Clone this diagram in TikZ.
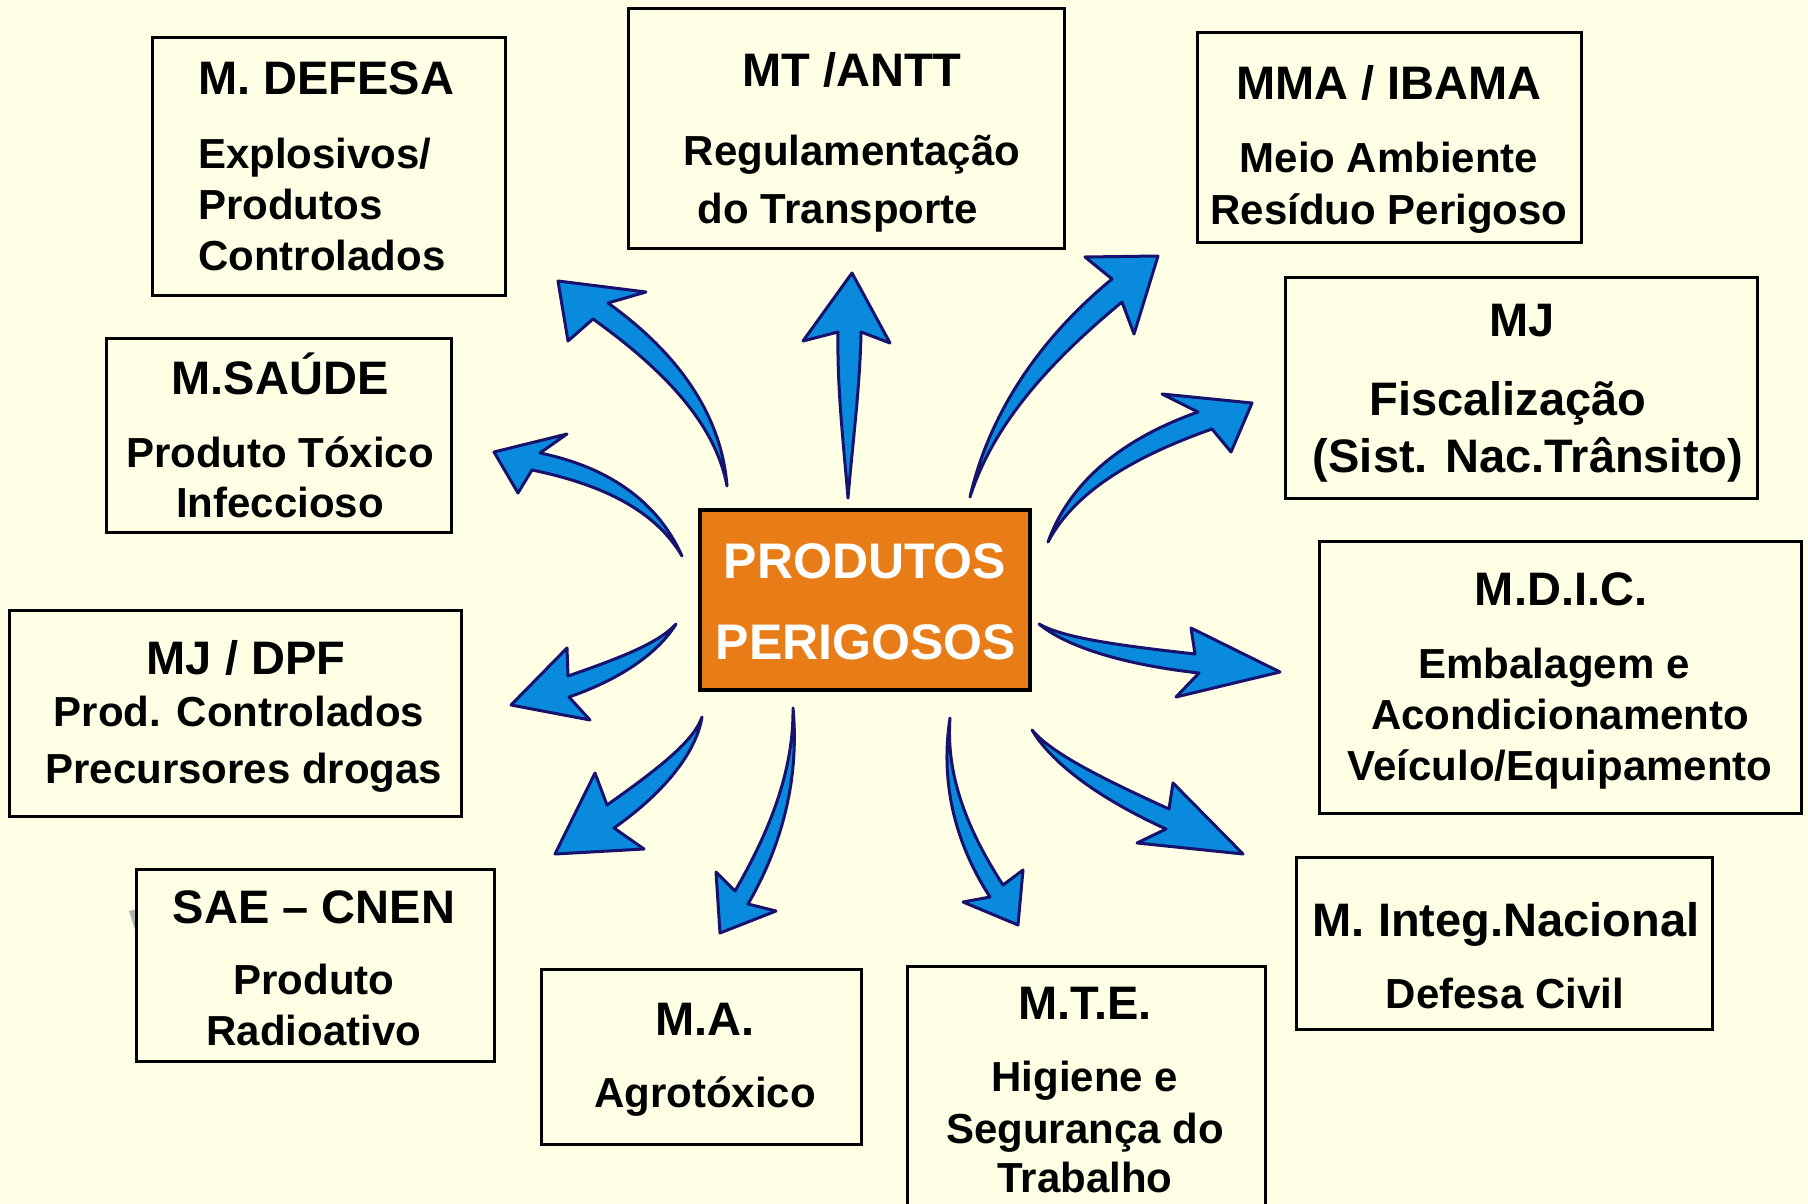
\documentclass[tikz,border=0pt]{standalone}
\usepackage{fontspec}
\setmainfont{Liberation Sans}
\usetikzlibrary{calc}
\definecolor{bg}{HTML}{FFFFE6}
\definecolor{arrfill}{HTML}{0A8ADC}
\definecolor{arrline}{HTML}{16126E}
\definecolor{orangebox}{HTML}{E87C17}
% tail, control, notch, barb, tip, barb, notch
\newcommand\blockarrow[7]{%
  \coordinate (nm) at ($(#3)!0.5!(#7)$);
  \coordinate (ca) at ($(#1)!0.667!(#2)$);
  \coordinate (cb) at ($(nm)!0.667!(#2)$);
  \filldraw[arr] (#1) .. controls ($(ca)+0.4*(#3)-0.4*(nm)$) and ($(cb)+(#3)-(nm)$) .. (#3)
    -- (#4) -- (#5) -- (#6) -- (#7)
    .. controls ($(cb)+(#7)-(nm)$) and ($(ca)+0.4*(#7)-0.4*(nm)$) .. (#1) -- cycle;}
\begin{document}
\begin{tikzpicture}[x=1pt,y=-1pt,
  box/.style={draw=black,line width=3pt,fill=bg,rectangle,inner sep=0pt},
  ttl/.style={anchor=base,inner sep=0pt,font=\fontsize{47}{56}\selectfont\bfseries},
  bdy/.style={anchor=base,inner sep=0pt,font=\fontsize{42}{50}\selectfont\bfseries},
  ctr/.style={anchor=base,inner sep=0pt,text=white,font=\fontsize{50}{60}\selectfont\bfseries},
  arr/.style={fill=arrfill,draw=arrline,line width=3pt,line join=round}]
\useasboundingbox (0,0) rectangle (1808,1204);
\fill[bg] (0,0) rectangle (1808,1204);
\fill[gray!60] (129,911) -- (137,909) -- (137,936) -- cycle;
\begin{scope}
\clip (0,0) rectangle (1808,1204);
% boxes
\node[box,minimum width=353,minimum height=257] (defesa) at (328.5,166.5) {};
\node[box,minimum width=436,minimum height=239] (antt) at (846,128.5) {};
\node[box,minimum width=384,minimum height=209] (ibama) at (1389,137.5) {};
\node[box,minimum width=472,minimum height=221] (mjf) at (1521,387.5) {};
\node[box,minimum width=482,minimum height=272] (mdic) at (1560,677) {};
\node[box,minimum width=416,minimum height=172] (integ) at (1504,943) {};
\node[box,minimum width=358,minimum height=274] (mte) at (1086,1103) {};
\node[box,minimum width=320,minimum height=175] (ma) at (701,1056.5) {};
\node[box,minimum width=358,minimum height=192] (cnen) at (315,965) {};
\node[box,minimum width=452,minimum height=206] (dpf) at (235,713) {};
\node[box,minimum width=345,minimum height=194] (saude) at (278.5,435) {};
\node[box,fill=orangebox,line width=4pt,minimum width=330,minimum height=180] (center) at (865,600) {};
\end{scope}
% texts
\node[ttl,anchor=base west] (t1a) at (198,95) {M. DEFESA};
\node[bdy,anchor=base west] (t1b) at (198,168) {Explosivos/};
\node[bdy,anchor=base west] (t1c) at (198,219) {Produtos};
\node[bdy,anchor=base west] (t1d) at (198,270) {Controlados};
\node[ttl] (t2a) at (852,87) {MT /ANTT};
\node[bdy] (t2b) at (852,165) {Regulamentação};
\node[bdy] (t2c) at (838,223) {do Transporte};
\node[ttl] (t3a) at (1389,100) {MMA / IBAMA};
\node[bdy] (t3b) at (1389,173) {Meio Ambiente};
\node[bdy] (t3c) at (1389,224) {Resíduo Perigoso};
\node[ttl] (t4a) at (1522,336) {MJ};
\node[ttl] (t4b) at (1508,415) {Fiscalização};
\node[ttl] (t4c) at (1528,472) {(Sist. Nac.Trânsito)};
\node[ttl] (t5a) at (1561,605) {M.D.I.C.};
\node[bdy] (t5b) at (1554,678) {Embalagem e};
\node[bdy] (t5c) at (1560,729) {Acondicionamento};
\node[bdy] (t5d) at (1560,780) {Veículo/Equipamento};
\node[ttl] (t6a) at (1506,936) {M. Integ.Nacional};
\node[bdy] (t6b) at (1505,1008) {Defesa Civil};
\node[ttl] (t7a) at (1085,1019) {M.T.E.};
\node[bdy] (t7b) at (1085,1091) {Higiene e};
\node[bdy] (t7c) at (1085,1143) {Segurança do};
\node[bdy] (t7d) at (1085,1192) {Trabalho};
\node[ttl] (t8a) at (705,1035) {M.A.};
\node[bdy] (t8b) at (705,1107) {Agrotóxico};
\node[ttl] (t9a) at (314,923) {SAE – CNEN};
\node[bdy] (t9b) at (314,994) {Produto};
\node[bdy] (t9c) at (314,1045) {Radioativo};
\node[ttl] (t10a) at (246,674) {MJ / DPF};
\node[bdy] (t10b) at (239,726) {Prod. Controlados};
\node[bdy] (t10c) at (244,783) {Precursores drogas};
\node[ttl] (t11a) at (280,394) {M.SAÚDE};
\node[bdy] (t11b) at (280,467) {Produto Tóxico};
\node[bdy] (t11c) at (280,517) {Infeccioso};
\node[ctr] (c1) at (865,578) {PRODUTOS};
\node[ctr] (c2) at (866,659) {PERIGOSOS};
% arrows: tail, control, notch, barb, tip, barb, notch
\blockarrow{727,486}{715,393}{608,303}{646,292}{558,281}{568,341}{593,319}
\blockarrow{682,556}{645,484}{540,453}{567,434}{494,452}{518,493}{532,470}
\blockarrow{676,624}{651,658}{568,676}{567,648}{511,705}{590,720}{569,697}
\blockarrow{702,717}{692,759}{607,805}{595,773}{555,854}{644,849}{614,828}
\blockarrow{793,708}{798,800}{735,891}{716,872}{720,933}{776,911}{748,904}
\blockarrow{950,718}{940,804}{990,897}{963,902}{1018,925}{1023,870}{1003,885}
\blockarrow{1032,730}{1060,770}{1166,829}{1137,843}{1243,854}{1173,783}{1169,809}
\blockarrow{1039,624}{1076,650}{1199,673}{1176,697}{1280,672}{1191,628}{1195,654}
\blockarrow{1048,542}{1082,464}{1212,429}{1231,452}{1252,403}{1162,394}{1198,412}
\blockarrow{970,497}{1000,387}{1122,302}{1134,334}{1158,256}{1085,257}{1112,279}
\blockarrow{848,498}{848,415}{838,332}{803,341}{852,273}{890,343}{861,332}
\end{tikzpicture}
\end{document}
